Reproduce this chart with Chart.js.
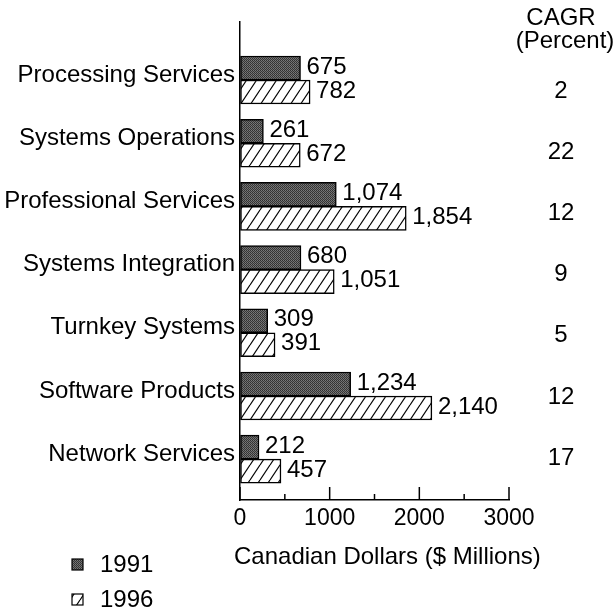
<!DOCTYPE html>
<html>
<head>
<meta charset="utf-8">
<script src="https://cdn.jsdelivr.net/npm/chart.js@4"></script>
<style>
  html, body { margin: 0; padding: 0; background: #fff; }
  canvas { display: block; }
</style>
</head>
<body>
<canvas id="c-chart" width="613" height="608"></canvas>
<script>
const categories = [
  "Processing Services",
  "Systems Operations",
  "Professional Services",
  "Systems Integration",
  "Turnkey Systems",
  "Software Products",
  "Network Services",
];
const years = ["1991", "1996"];
const values1991 = [675, 261, 1074, 680, 309, 1234, 212];
const values1996 = [782, 672, 1854, 1051, 391, 2140, 457];
const cagr = [2, 22, 12, 9, 5, 12, 17];
const xTicks = [0, 1000, 2000, 3000];
const xTitle = "Canadian Dollars ($ Millions)";

const FONT = '"Liberation Sans", Arial, Helvetica, sans-serif';

// stippled dark fill for 1991
const makeStipple = () => {
  const c = document.createElement("canvas");
  c.width = 2;
  c.height = 2;
  const g = c.getContext("2d");
  g.fillStyle = "#303030"; g.fillRect(0, 0, 1, 1);
  g.fillStyle = "#7a7a7a"; g.fillRect(1, 0, 1, 1);
  g.fillStyle = "#6c6c6c"; g.fillRect(0, 1, 1, 1);
  g.fillStyle = "#383838"; g.fillRect(1, 1, 1, 1);
  return g.createPattern(c, "repeat");
};

// diagonal hatch for 1996
const makeHatch = () => {
  const c = document.createElement("canvas");
  c.width = 10;
  c.height = 15;
  const g = c.getContext("2d");
  g.fillStyle = "#fff";
  g.fillRect(0, 0, 10, 15);
  g.strokeStyle = "#000";
  g.lineWidth = 1.2;
  [-10, 0, 10].forEach((dx) => {
    g.beginPath();
    g.moveTo(dx, 15);
    g.lineTo(dx + 10, 0);
    g.stroke();
  });
  return g.createPattern(c, "repeat");
};

const ctx = document.getElementById("c-chart");
const fills = [makeStipple(), makeHatch()];

// value labels, tick marks, axis title, CAGR column and legend
const extras = {
  id: "extras",
  afterDraw(chart) {
    const g = chart.ctx;
    const xs = chart.scales.x;
    const ys = chart.scales.y;
    g.save();
    g.fillStyle = "#000";
    g.strokeStyle = "#000";
    g.font = "24px " + FONT;

    // upward tick marks
    g.lineWidth = 1.5;
    xs.ticks.forEach((t) => {
      const px = xs.getPixelForValue(t.value);
      const len = xTicks.includes(t.value) ? 13 : 6;
      g.beginPath();
      g.moveTo(px, xs.top);
      g.lineTo(px, xs.top - len);
      g.stroke();
    });

    // bar values
    g.textAlign = "left";
    g.textBaseline = "middle";
    chart.data.datasets.forEach((ds, d) => {
      chart.getDatasetMeta(d).data.forEach((bar, i) => {
        g.fillText(ds.data[i].x.toLocaleString("en-US"), bar.x + 6, bar.y - 1);
      });
    });

    // x axis title (drawn here so it is not squeezed to the axis width)
    g.fillText(xTitle, xs.left - 6, 557);

    // CAGR column
    g.textAlign = "center";
    g.fillText("CAGR", 561, 18);
    g.fillText("(Percent)", 565, 41);
    cagr.forEach((v, i) => {
      g.fillText(String(v), 561, ys.getPixelForValue(i) + 11 - 2 * i);
    });

    // legend
    g.textAlign = "left";
    years.forEach((yr, k) => {
      const top = k === 0 ? 559 : 594;
      g.fillStyle = fills[k];
      g.fillRect(72, top, 11, 11);
      g.lineWidth = 1.2;
      g.strokeRect(72, top, 11, 11);
      g.fillStyle = "#000";
      g.fillText(yr, 100, top + 6);
    });
    g.restore();
  },
};

new Chart(ctx, {
  type: "bar",
  data: {
    datasets: [
      {
        label: years[0],
        data: values1991.map((v, i) => ({ x: v, y: i })),
        backgroundColor: fills[0],
      },
      {
        label: years[1],
        data: values1996.map((v, i) => ({ x: v, y: i })),
        backgroundColor: fills[1],
      },
    ],
  },
  options: {
    indexAxis: "y",
    responsive: false,
    animation: false,
    events: [],
    layout: { padding: { top: 22, right: 104, bottom: 0, left: 0 } },
    datasets: {
      bar: {
        barThickness: 24,
        borderColor: "#000",
        borderWidth: 1.5,
        borderSkipped: false,
      },
    },
    plugins: {
      legend: { display: false },
      tooltip: { enabled: false },
    },
    scales: {
      x: {
        type: "linear",
        min: 0,
        max: 3000,
        afterFit: (s) => { s.height = 108; },
        grid: { display: true, drawOnChartArea: false, drawTicks: false },
        border: { color: "#000", width: 1.5 },
        ticks: {
          stepSize: 500,
          autoSkip: false,
          maxRotation: 0,
          padding: 5,
          color: "#000",
          font: { family: FONT, size: 23 },
          callback: (v) => (xTicks.includes(v) ? String(v) : ""),
        },
        title: { display: false },
      },
      y: {
        type: "linear",
        reverse: true,
        offset: false,
        bounds: "data",
        min: -0.918,
        max: 6.646,
        afterFit: (s) => { s.width = 240; },
        afterBuildTicks: (s) => { s.ticks = categories.map((c, i) => ({ value: i })); },
        grid: { display: true, offset: false, drawOnChartArea: false, drawTicks: false },
        border: { color: "#000", width: 1.5 },
        ticks: {
          autoSkip: false,
          padding: 5,
          labelOffset: -5,
          color: "#000",
          font: { family: FONT, size: 24 },
          callback: (v) => categories[v] ?? "",
        },
      },
    },
  },
  plugins: [extras],
});
</script>
</body>
</html>
